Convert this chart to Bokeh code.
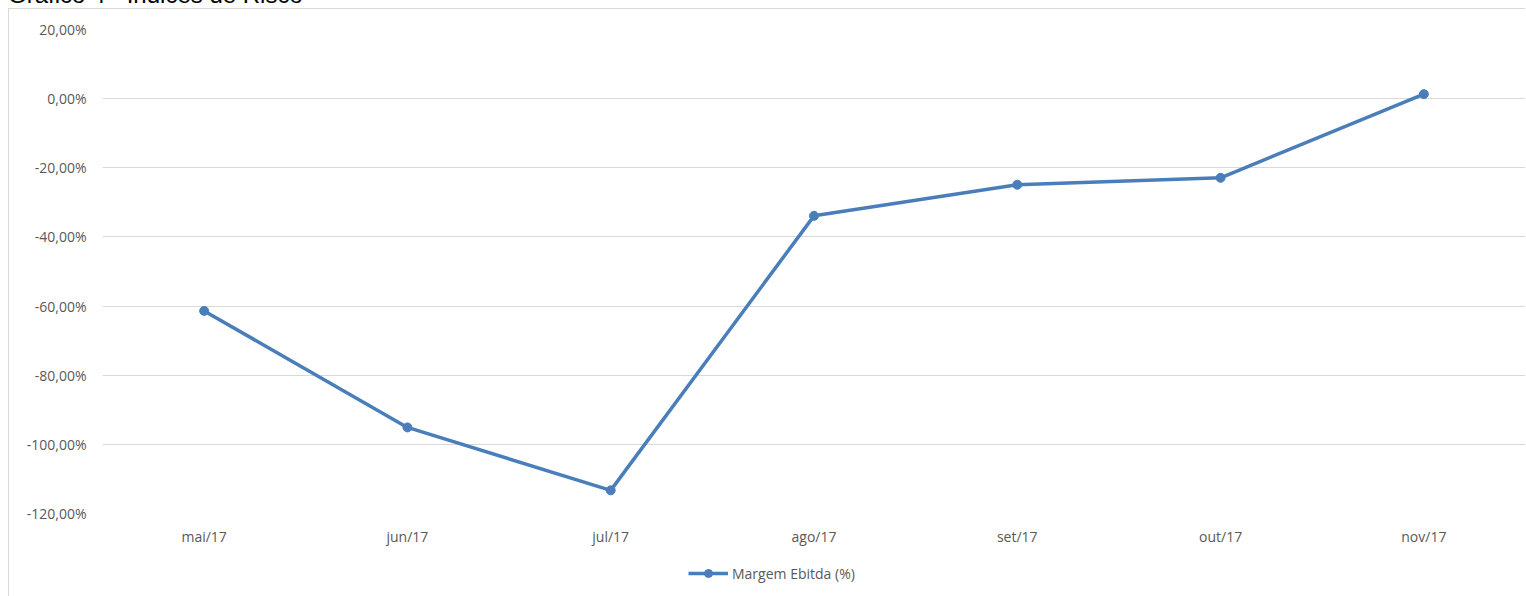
from bokeh.plotting import figure
from bokeh.layouts import column
from bokeh.models import (FactorRange, Range1d, FixedTicker, CustomJSTickFormatter, Legend, LegendItem,
                          ColumnDataSource, Div)
from bokeh.embed import file_html
from bokeh.resources import INLINE

months = ["mai/17", "jun/17", "jul/17", "ago/17", "set/17", "out/17", "nov/17"]
margem_ebitda = [-61.4, -95.1, -113.3, -33.9, -24.9, -22.9, 1.3]
y_ticks = [-120, -100, -80, -60, -40, -20, 0, 20]
series_name = "Margem Ebitda (%)"
title_text = "Gráfico 4 - Índices de Risco"

FONT = "Open Sans"
TXT = "#595959"
GRID = "#d9d9d9"
BLUE = "#4a7ebb"

# document title above the chart, cut off by the window's top edge
title = Div(text=f'<div style="position:relative;top:-17px;font-family:\'Liberation Sans\';font-size:24px;'
                 f'line-height:24px;color:#000;white-space:nowrap">{title_text}</div>',
            width=420, height=8, margin=0, styles={"overflow": "hidden", "margin-left": "8px"})

p = figure(frame_width=1422, frame_height=483, x_range=FactorRange(*months),
           y_range=Range1d(-120, 20), output_backend="svg", toolbar_location=None,
           min_border_left=93, min_border_right=1, min_border_top=20, min_border_bottom=40,
           margin=0)
p.styles = {"border-left": "1px solid #d9d9d9", "border-top": "1px solid #d9d9d9", "margin-left": "8px"}
p.outline_line_color = None
p.background_fill_color = "white"
p.border_fill_color = "white"

src = ColumnDataSource(dict(x=months, y=margem_ebitda))
r1 = p.line("x", "y", source=src, line_color=BLUE, line_width=3.5)
r2 = p.scatter("x", "y", source=src, size=9, fill_color=BLUE, line_color=BLUE)

p.xgrid.grid_line_color = None
p.ygrid.grid_line_color = GRID
p.ygrid.grid_line_width = 1

p.yaxis.ticker = FixedTicker(ticks=y_ticks)
p.yaxis.formatter = CustomJSTickFormatter(code="return tick.toFixed(2).replace('.', ',') + '%';")
for ax in (p.xaxis[0], p.yaxis[0]):
    ax.axis_line_color = None
    ax.major_tick_line_color = None
    ax.minor_tick_line_color = None
    ax.major_label_text_font = FONT
    ax.major_label_text_font_size = "14px"
    ax.major_label_text_color = TXT
p.yaxis.major_label_standoff = 10
p.xaxis.major_label_standoff = 7

# legend strip under the chart (continues the chart box's left edge);
# its series renderers sit outside this strip's view, only the legend shows
lf = figure(width=1516, height=44, x_range=FactorRange(*months), y_range=Range1d(1000, 1001),
            output_backend="svg", toolbar_location=None,
            x_axis_location=None, y_axis_location=None, min_border=0, margin=0)
lf.styles = {"border-left": "1px solid #d9d9d9", "margin-left": "8px"}
lf.outline_line_color = None
lf.grid.visible = False
lf.border_fill_color = "white"
lf.background_fill_color = "white"
k1 = lf.line("x", "y", source=src, line_color=BLUE, line_width=3.5)
k2 = lf.scatter("x", "y", source=src, size=9, fill_color=BLUE, line_color=BLUE)
legend = Legend(items=[LegendItem(label=series_name, renderers=[k1, k2])],
                location=(586, 13), orientation="horizontal",
                label_text_font=FONT, label_text_font_size="14px", label_text_color=TXT,
                border_line_color=None, background_fill_alpha=0,
                glyph_width=40, glyph_height=20, label_standoff=4, margin=0, padding=0, spacing=0)
lf.add_layout(legend, "center")

layout = column(title, p, lf, spacing=0)
open("out.html", "w").write(file_html(layout, INLINE))
